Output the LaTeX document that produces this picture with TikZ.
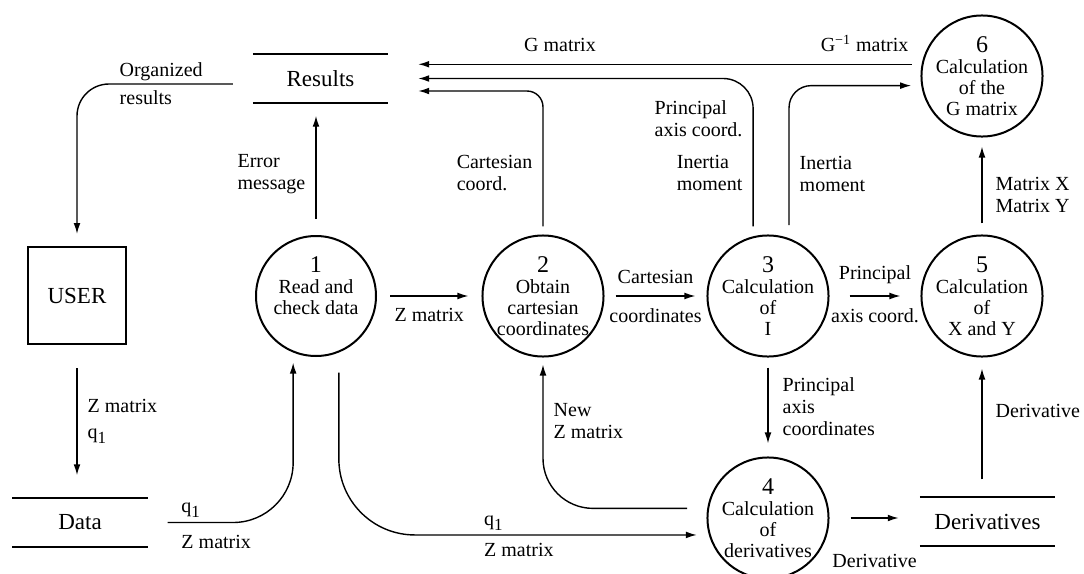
\documentclass[tikz,border=0pt]{standalone}
\usepackage{fontspec}
\setmainfont{Liberation Serif}
\usetikzlibrary{arrows.meta}
\newcommand{\pnum}[1]{{\fontsize{12}{12}\selectfont #1}}
\newcommand{\qone}{q\raisebox{-2.5pt}{\fontsize{8.5}{8.5}\selectfont 1}}

\begin{document}
\begin{tikzpicture}[x=0.5pt,y=-0.5pt,line width=0.7pt,
    font=\fontsize{10}{11}\selectfont,
    flow/.style={-{Latex[length=5.5pt,width=3.4pt]}},
    proc/.style={circle,draw,line width=1pt,minimum size=60pt,inner sep=0pt,
      align=center,font=\fontsize{10}{10.5}\selectfont},
    store/.style={minimum width=67pt,minimum height=23.5pt,inner sep=0pt,
      font=\fontsize{11.5}{12}\selectfont},
    lbl/.style={align=left,inner sep=2pt}]
    \useasboundingbox (0,0) rectangle (1084,574);
    % processes
    \node[proc] (p1) at (316,296) {\pnum{1}\\Read and\\check data\\~};
    \node[proc] (p2) at (543,296) {\pnum{2}\\Obtain\\cartesian\\coordinates};
    \node[proc] (p3) at (768,296) {\pnum{3}\\Calculation\\of\\I};
    \node[proc] (p4) at (768,518) {\pnum{4}\\Calculation\\of\\derivatives};
    \node[proc] (p5) at (982,296) {\pnum{5}\\Calculation\\of\\X and Y};
    \node[proc] (p6) at (982,76) {\pnum{6}\\Calculation\\of the\\G matrix};
    % stores and user
    \node[store] (res) at (320.5,78.5) {Results};
    \node[store] (data) at (80,522.5) {Data};
    \node[store] (der) at (987.5,521.5) {Derivatives};
    \draw[line width=1pt] (res.north west) -- (res.north east) (res.south west) -- (res.south east);
    \draw[line width=1pt] (data.north west) -- (data.north east) (data.south west) -- (data.south east);
    \draw[line width=1pt] (der.north west) -- (der.north east) (der.south west) -- (der.south east);
    \node[draw,line width=1pt,minimum width=49pt,minimum height=48.5pt,
      font=\fontsize{11.5}{12}\selectfont] (user) at (77,295.5) {USER};
    % flows
    \draw[flow,rounded corners=16pt,shorten >=6pt] ([shift={(-20,5.5)}]res.west) -| (user.north)
      node[lbl,pos=0.378,anchor=west] (lorg) {Organized\\[3pt]results};
    \draw[flow,shorten <=8pt,shorten >=6.5pt] (p1.north) -- (p1.north |- res.south)
      node[lbl,left=3pt,pos=0.46] (lerr) {Error\\message};
    \draw[flow,shorten <=11.5pt,shorten >=11.5pt] (user.south) -- (user.south |- data.north)
      node[lbl,right=3pt,midway] (luser) {Z matrix\\[2pt]\qone};
    \draw[flow,rounded corners=30pt,shorten <=10pt,shorten >=5pt] (data.east) -| (p1.-112)
      node[lbl,pos=0.1,anchor=south west] (ldq) {\qone}
      node[lbl,pos=0.1,anchor=north west,yshift=-4pt] (ldz) {Z matrix};
    \draw[flow,rounded corners=38pt,shorten <=10pt,shorten >=6pt] (p1.-68) |- (p4.-164)
      node[lbl,pos=0.69,anchor=south west] (l14q) {\qone}
      node[lbl,pos=0.69,anchor=north west,yshift=-2pt] (l14z) {Z matrix};
    \draw[flow,rounded corners=25pt,shorten <=10pt,shorten >=3.5pt] (p4.171) -| (p2.south)
      node[lbl,right=3pt,pos=0.79] (lnew) {New\\Z matrix};
    \draw[flow,shorten <=6.5pt,shorten >=6.5pt] (p1) -- (p2)
      node[lbl,below=4pt,midway] (l12) {Z matrix};
    \draw[flow,shorten <=5.5pt,shorten >=5.5pt] (p2) -- (p3)
      node[lbl,above=4pt,midway] (l23a) {Cartesian}
      node[lbl,below=4pt,midway] (l23b) {coordinates};
    \draw[flow,shorten <=10pt,shorten >=10pt] (p3) -- (p5)
      node[lbl,above=4pt,midway] (l35a) {Principal}
      node[lbl,below=4pt,midway] (l35b) {axis coord.};
    \draw[flow,shorten <=5pt,shorten >=6.5pt] (p3) -- (p4)
      node[lbl,right=5pt,midway] (l34) {Principal\\axis\\coordinates};
    \draw[flow,shorten <=10.5pt,shorten >=10.5pt] (p4.east) -- (p4.east -| der.west)
      node[lbl,below=16pt,midway] (l4d) {Derivative};
    \draw[flow,shorten <=9pt,shorten >=5.5pt] (der.north -| p5) -- (p5.south)
      node[lbl,right=4.5pt,pos=0.62] (ld5) {Derivative};
    \draw[flow,shorten <=5.5pt,shorten >=4.5pt] (p5) -- (p6)
      node[lbl,right=4.5pt,pos=0.41] (l56) {Matrix X\\Matrix Y};
    \draw[flow,shorten <=5pt,shorten >=15pt] (p6.169) -- (p6.169 -| res.east)
      node[lbl,above=4pt,pos=0.107] (lginv) {G\textsuperscript{−1} matrix}
      node[lbl,above=4pt,pos=0.678] (lg) {G matrix};
    \draw[flow,rounded corners=15pt,shorten <=5pt,shorten >=15pt] (p3.104) |- (res.east)
      node[lbl,left=3pt,pos=0.2] (l3ri) {Inertia\\moment}
      node[lbl,left=3pt,pos=0.372] (l3rp) {Principal\\axis coord.};
    \draw[flow,rounded corners=8pt,shorten <=4pt,shorten >=15pt] (p2.north) |- ([yshift=-6.25pt]res.east)
      node[lbl,left=3pt,pos=0.214] (l2r) {Cartesian\\coord.};
    \draw[flow,rounded corners=11pt,shorten <=6.5pt,shorten >=5pt] (p3.70) |- (p6.189)
      node[lbl,right=3pt,pos=0.21] (l36) {Inertia\\moment};
\end{tikzpicture}
\end{document}
